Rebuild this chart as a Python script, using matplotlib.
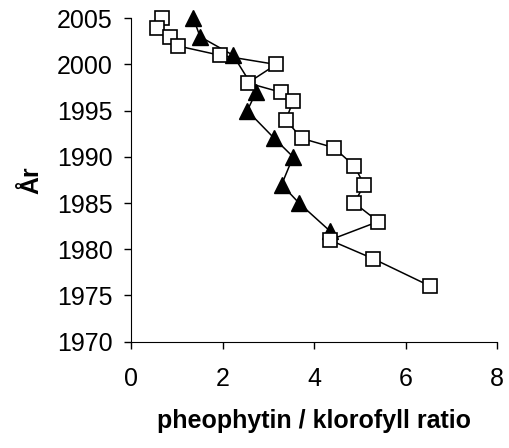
import numpy as np
import matplotlib
matplotlib.use('Agg')
import matplotlib.pyplot as plt

# data
sq_ratio = [0.67, 0.57, 0.85, 1.03, 1.94, 3.17, 2.55, 3.27, 3.54, 3.38,
            3.73, 4.43, 4.88, 5.09, 4.88, 5.40, 4.34, 5.28, 6.54]
sq_year = [2005, 2004, 2003, 2002, 2001, 2000, 1998, 1997, 1996, 1994,
           1992, 1991, 1989, 1987, 1985, 1983, 1981, 1979, 1976]

tri_ratio = [1.36, 1.51, 2.23, 2.73, 2.54, 3.13, 3.54, 3.29, 3.67, 4.34]
tri_year = [2005, 2003, 2001, 1997, 1995, 1992, 1990, 1987, 1985, 1982]

x_ticks = [0, 2, 4, 6, 8]
y_ticks = [1970, 1975, 1980, 1985, 1990, 1995, 2000, 2005]

plt.rcParams['font.family'] = ['Liberation Sans', 'DejaVu Sans']

fig = plt.figure(figsize=(5.09, 4.48), dpi=100)
ax = fig.add_axes([0.2574, 0.2373, 0.977 - 0.2574, 0.9592 - 0.2373])

ax.plot(tri_ratio, tri_year, color='black', lw=1.1, marker='^', ms=11,
        mfc='black', mec='black', clip_on=False, zorder=3)
ax.plot(sq_ratio, sq_year, color='black', lw=1.1, marker='s', ms=9.5,
        mfc='white', mec='black', mew=1.2, clip_on=False, zorder=4)

ax.set_xlim(0, 8)
ax.set_ylim(1970, 2005)
ax.set_xticks(x_ticks)
ax.set_yticks(y_ticks)
ax.tick_params(direction='out', length=5, width=1, labelsize=18)
ax.tick_params(axis='y', pad=8)
ax.tick_params(axis='x', pad=13)
ax.spines['top'].set_visible(False)
ax.spines['right'].set_visible(False)
ax.set_xlabel('pheophytin / klorofyll ratio', fontsize=18, fontweight='bold', labelpad=13)
ax.set_ylabel('År', fontsize=18, fontweight='bold', labelpad=10)

fig.savefig('out.png', dpi=100)
